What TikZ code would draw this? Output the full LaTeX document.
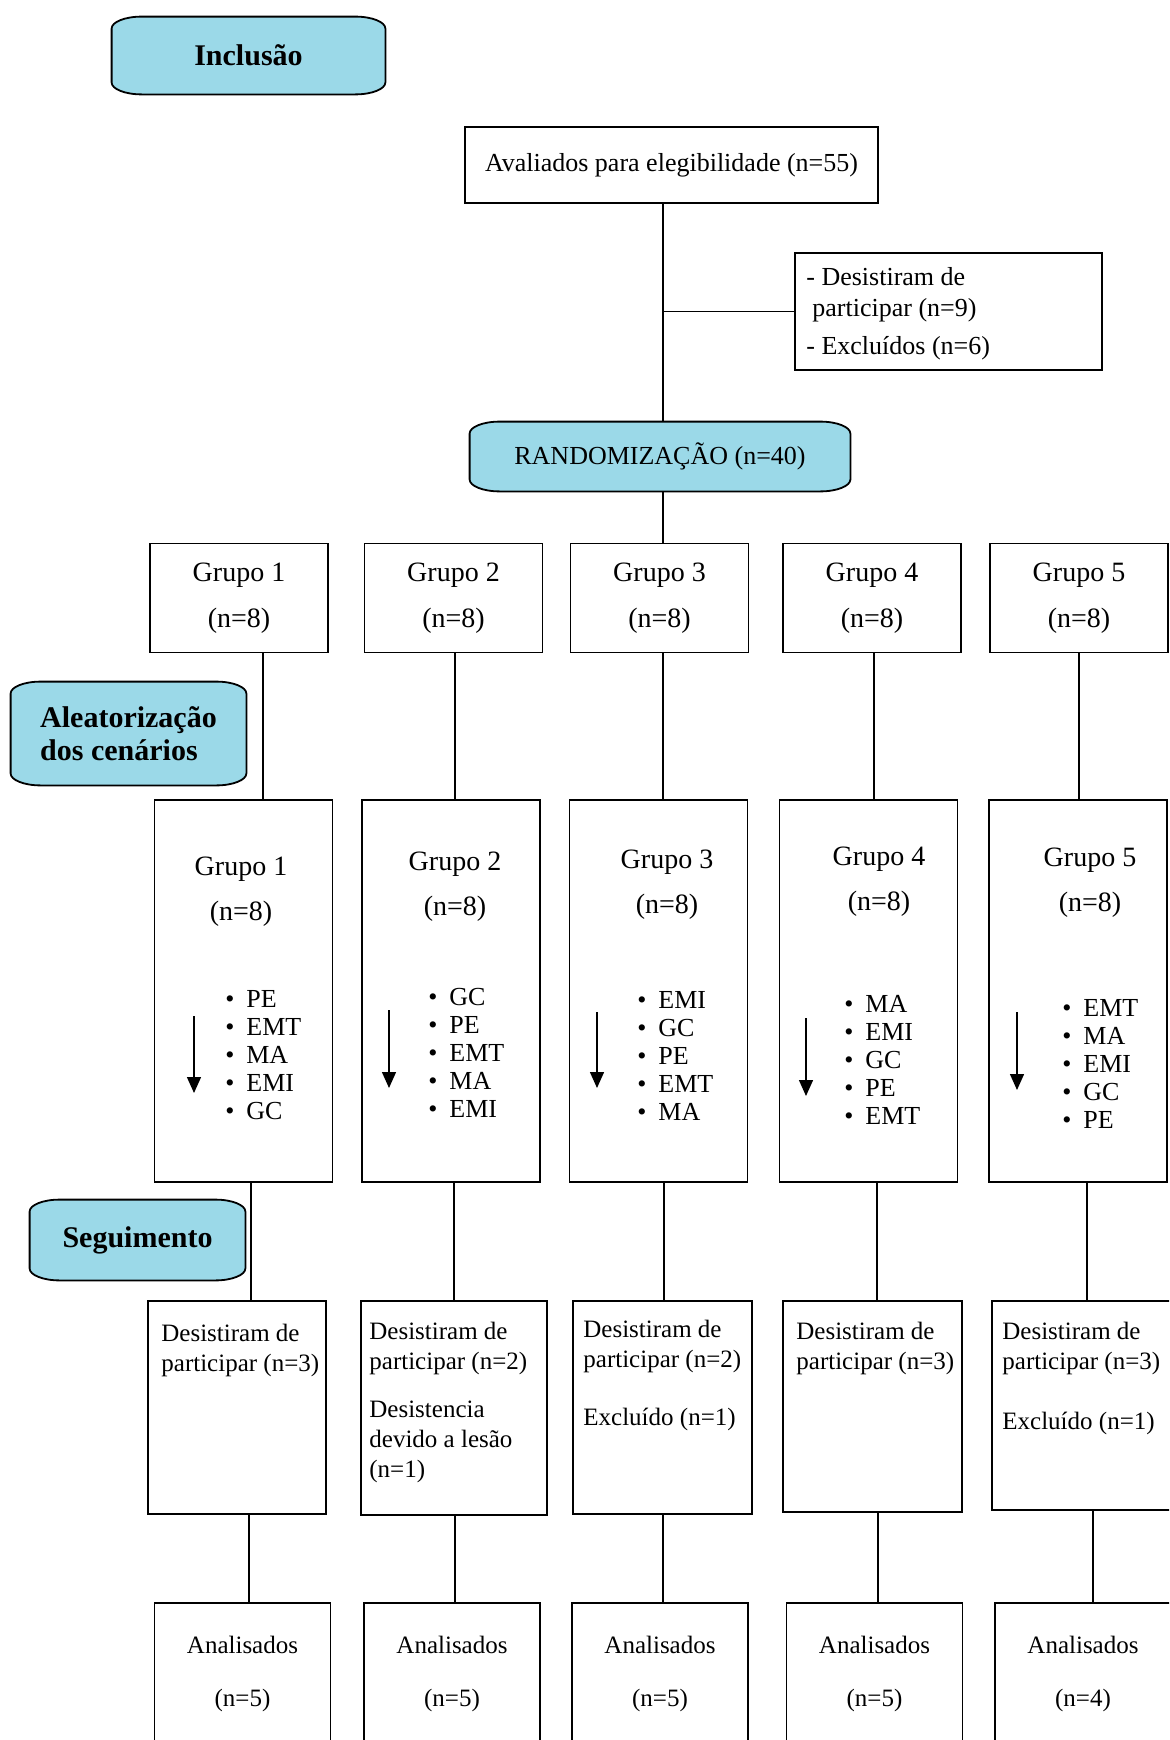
\documentclass[tikz,border=0pt]{standalone}
\usepackage{fontspec}
\setmainfont{Liberation Serif}
\usetikzlibrary{arrows.meta,backgrounds}

\definecolor{capblue}{RGB}{155,217,232}

\tikzset{
  box/.style={draw, line width=0.9pt, inner sep=0pt},
  capsule/.style={draw, fill=capblue, line width=0.9pt},
  phase/.style={inner sep=0pt, font=\fontsize{15}{16.5}\selectfont\bfseries},
  txt/.style={inner sep=0pt, font=\fontsize{12.5}{15}\selectfont, align=left},
  grp/.style={inner sep=0pt, font=\fontsize{14}{23}\selectfont, align=center},
  items/.style={inner sep=0pt, font=\fontsize{13}{14}\selectfont, align=left},
  link/.style={line width=0.9pt},
  order/.style={line width=0.7pt, -{Triangle[width=7pt,length=8pt]}}
}
\newcommand{\itm}[1]{\makebox[10.5pt][l]{\textbullet}#1}

\begin{document}
\begin{tikzpicture}[x=0.5pt,y=-0.5pt]
\clip (0,0) rectangle (1169,1740);

% phases
\node[phase, minimum width=136.5pt, minimum height=38.5pt] (incl) at (248.5,55.5) {Inclusão};
\node[phase, minimum width=117.5pt, minimum height=51.5pt, align=left] (aleat) at (128.5,733.5) {Aleatorização\\dos cenários};
\node[phase, minimum width=107.5pt, minimum height=40pt] (segu) at (137.5,1240) {Seguimento};

% inclusion
\node[box, font=\fontsize{13}{16}\selectfont, minimum width=206.5pt, minimum height=38pt] (aval) at (671.5,165) {Avaliados para elegibilidade (n=55)};
\node[box, minimum width=153.5pt, minimum height=58.5pt] (excl) at (948.5,311.5) {};
\node[txt, font=\fontsize{13}{15.5}\selectfont, anchor=west] (excltxt) at (806,314) {- Desistiram de\\\hspace*{3pt}participar (n=9)\\[3.5pt]- Excluídos (n=6)};
\node[inner sep=0pt, font=\fontsize{13}{16}\selectfont, minimum width=190pt, minimum height=34.5pt] (rand) at (660,456.5) {RANDOMIZAÇÃO (n=40)};

\begin{pgfonlayer}{background}
\foreach \n in {incl,aleat,segu,rand}
  \draw[capsule] ([xshift=15pt]\n.north west) -- ([xshift=-15pt]\n.north east)
    arc[start angle=90, end angle=0, x radius=15pt, y radius=6pt]
    -- ([yshift=6pt]\n.south east)
    arc[start angle=0, end angle=-90, x radius=15pt, y radius=6pt]
    -- ([xshift=15pt]\n.south west)
    arc[start angle=270, end angle=180, x radius=15pt, y radius=6pt]
    -- ([yshift=-6pt]\n.north west)
    arc[start angle=180, end angle=90, x radius=15pt, y radius=6pt] -- cycle;
\end{pgfonlayer}

\coordinate (trunk) at (663,0);
\draw[link] (aval.south -| trunk) -- (rand.north -| trunk);
\draw[link] (trunk |- excl.west) -- (excl.west);

% groups
\foreach \i/\x in {1/239,2/453.5,3/659.5,4/872,5/1079}
  \node[box, grp, minimum width=89pt, minimum height=54.5pt] (t\i) at (\x,598) {Grupo \i\\(n=8)};
\draw[link] (rand.south -| trunk) -- (t3.north -| trunk);

% order of scenarios
\foreach \i/\x in {1/243.5,2/451,3/658.5,4/868.5,5/1078}
  \node[box, minimum width=89pt, minimum height=191pt] (m\i) at (\x,991) {};
\foreach \i/\x/\y in {1/241/891.5,2/455/886.5,3/667/884.5,4/879/882,5/1090/882.5}
  \node[grp, font=\fontsize{14}{22.5}\selectfont] (g\i) at (\x,\y) {Grupo \i\\(n=8)};
\foreach \i/\x/\y/\a/\b/\c/\d/\e in {1/225/1055/PE/EMT/MA/EMI/GC, 2/428/1053/GC/PE/EMT/MA/EMI, 3/637/1055.5/EMI/GC/PE/EMT/MA, 4/844/1059.5/MA/EMI/GC/PE/EMT, 5/1062/1063.5/EMT/MA/EMI/GC/PE}
  \node[items, anchor=west] (l\i) at (\x,\y) {\itm{\a}\\\itm{\b}\\\itm{\c}\\\itm{\d}\\\itm{\e}};
\foreach \i/\x/\ya/\yb in {1/194/1016/1093, 2/389/1010/1088, 3/597/1012/1088, 4/806/1018/1096, 5/1017/1012/1090} {
  \coordinate (os\i) at (\x,\ya);
  \coordinate (oe\i) at (\x,\yb);
  \draw[order] (os\i) -- (oe\i);
}

% follow-up
\foreach \i/\x/\y/\w/\h in {1/237/1407.5/89pt/106.5pt, 2/454/1408/93pt/107pt, 3/662.5/1407.5/89.5pt/106.5pt, 4/872.5/1406.5/89.5pt/105.5pt, 5/1082/1405.5/90pt/104.5pt}
  \node[box, minimum width=\w, minimum height=\h] (d\i) at (\x,\y) {};
\node[txt, anchor=north west] (dt1) at (161,1324) {Desistiram de\\participar (n=3)};
\node[txt, anchor=north west] (dt2) at (369,1322) {Desistiram de\\participar (n=2)\\[9pt]Desistencia\\devido a lesão\\(n=1)};
\node[txt, anchor=north west] (dt3) at (583,1320) {Desistiram de\\participar (n=2)\\[14pt]Excluído (n=1)};
\node[txt, anchor=north west] (dt4) at (796,1322) {Desistiram de\\participar (n=3)};
\node[txt, anchor=north west] (dt5) at (1002,1322) {Desistiram de\\participar (n=3)\\[15pt]Excluído (n=1)};

% analysis
\foreach \i/\x/\n in {1/242.5/5,2/452/5,3/660/5,4/874.5/5,5/1083/4}
  \node[box, grp, font=\fontsize{12.5}{26.5}\selectfont, minimum width=88pt, minimum height=71pt] (a\i) at (\x,1674) {Analisados\\(n=\n)};

\foreach \i/\xa/\xb/\xc in {1/263/251/249, 2/455/454/455, 3/663/664/663, 4/874/877/878, 5/1079/1087/1093} {
  \coordinate (ca\i) at (\xa,0);
  \coordinate (cb\i) at (\xb,0);
  \coordinate (cc\i) at (\xc,0);
  \draw[link] (t\i.south -| ca\i) -- (m\i.north -| ca\i);
  \draw[link] (m\i.south -| cb\i) -- (d\i.north -| cb\i);
  \draw[link] (d\i.south -| cc\i) -- (a\i.north -| cc\i);
}
\end{tikzpicture}
\end{document}
